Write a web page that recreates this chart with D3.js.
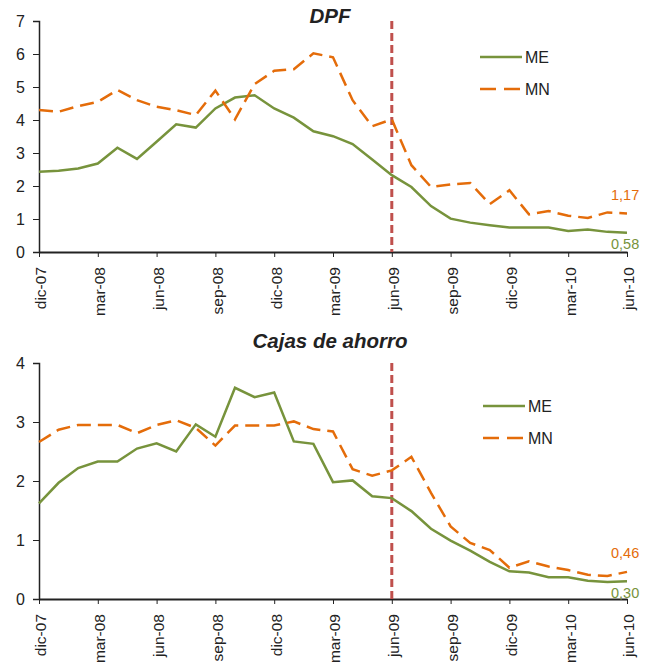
<!DOCTYPE html>
<html>
<head>
<meta charset="utf-8">
<script src="https://cdn.jsdelivr.net/npm/d3@7"></script>
<style>
  body { margin: 0; background: #fff; }
  svg { font-family: "Liberation Sans", Arial, sans-serif; }
</style>
</head>
<body>
<svg id="chart" width="651" height="664"></svg>
<script>
'use strict'

const months = ['dic-07', 'ene-08', 'feb-08', 'mar-08', 'abr-08', 'may-08', 'jun-08', 'jul-08', 'ago-08', 'sep-08', 'oct-08', 'nov-08',
  'dic-08', 'ene-09', 'feb-09', 'mar-09', 'abr-09', 'may-09', 'jun-09', 'jul-09', 'ago-09', 'sep-09', 'oct-09', 'nov-09',
  'dic-09', 'ene-10', 'feb-10', 'mar-10', 'abr-10', 'may-10', 'jun-10']
const tickLabels = ['dic-07', 'mar-08', 'jun-08', 'sep-08', 'dic-08', 'mar-09', 'jun-09', 'sep-09', 'dic-09', 'mar-10', 'jun-10']
const markMonth = 'jun-09'

const dpfME = [2.43, 2.46, 2.53, 2.68, 3.16, 2.82, 3.34, 3.87, 3.77, 4.35, 4.68, 4.75,
  4.35, 4.07, 3.66, 3.51, 3.27, 2.80, 2.33, 1.97, 1.39, 1.01, 0.89, 0.81,
  0.74, 0.74, 0.74, 0.64, 0.68, 0.61, 0.58]
const dpfMN = [4.30, 4.25, 4.42, 4.55, 4.91, 4.60, 4.40, 4.30, 4.15, 4.89, 4.02, 5.09,
  5.49, 5.54, 6.02, 5.90, 4.60, 3.81, 4.02, 2.63, 1.97, 2.05, 2.09, 1.45,
  1.87, 1.14, 1.24, 1.10, 1.03, 1.20, 1.17]

const cajasME = [1.62, 1.97, 2.22, 2.33, 2.33, 2.55, 2.64, 2.50, 2.96, 2.75, 3.58, 3.42,
  3.50, 2.67, 2.63, 1.98, 2.01, 1.74, 1.71, 1.49, 1.19, 0.99, 0.82, 0.63,
  0.47, 0.45, 0.37, 0.37, 0.31, 0.29, 0.30]
const cajasMN = [2.66, 2.87, 2.95, 2.95, 2.95, 2.81, 2.95, 3.03, 2.90, 2.60, 2.94, 2.94,
  2.94, 3.01, 2.88, 2.84, 2.20, 2.09, 2.18, 2.41, 1.80, 1.23, 0.95, 0.83,
  0.53, 0.64, 0.55, 0.49, 0.41, 0.39, 0.46]

const green = '#77933c'
const orange = '#e46c0a'
const red = '#c0504d'

const svg = d3.select('#chart')

const x = d3.scalePoint()
  .domain(months)
  .range([39, 627])

function panel(opts) {
  const y = d3.scaleLinear()
    .domain([0, opts.max])
    .range([opts.bottom, opts.top])

  const g = svg.append('g')

  g.append('text')
    .attr('x', 330)
    .attr('y', opts.titleY)
    .attr('text-anchor', 'middle')
    .style('font-size', '20.5px')
    .style('font-weight', 'bold')
    .style('font-style', 'italic')
    .style('fill', '#222')
    .text(opts.title)

  // y axis
  const gY = g.append('g')
    .attr('transform', `translate(${x.range()[0]},0)`)
    .call(d3.axisLeft(y).ticks(opts.max).tickSize(6).tickPadding(8).tickFormat(d3.format('d')))
  gY.select('.domain').attr('stroke', '#222').attr('stroke-width', 1.5)
  gY.selectAll('.tick line').attr('stroke', '#222')
  gY.selectAll('.tick text').style('font-size', '16px').style('fill', '#222')

  // x axis
  const gX = g.append('g')
    .attr('transform', `translate(0,${opts.bottom})`)
    .call(d3.axisBottom(x).tickValues(tickLabels).tickSize(5).tickSizeOuter(0))
  gX.select('.domain').attr('stroke', '#222').attr('stroke-width', 2)
  gX.selectAll('.tick line').attr('stroke', '#222')
  gX.selectAll('.tick text')
    .style('font-size', '15.5px')
    .style('fill', '#222')
    .attr('text-anchor', 'end')
    .attr('transform', 'rotate(-90)')
    .attr('x', -15)
    .attr('y', 0)
    .attr('dy', '0.45em')

  // vertical marker
  g.append('line')
    .attr('x1', x(markMonth))
    .attr('x2', x(markMonth))
    .attr('y1', opts.top)
    .attr('y2', opts.bottom)
    .attr('stroke', red)
    .attr('stroke-width', 3)
    .attr('stroke-dasharray', '8,4')

  const line = d3.line()
    .x((d, i) => x(months[i]))
    .y(d => y(d))

  g.append('path')
    .datum(opts.me)
    .attr('d', line)
    .attr('fill', 'none')
    .attr('stroke', green)
    .attr('stroke-width', 2.5)

  g.append('path')
    .datum(opts.mn)
    .attr('d', line)
    .attr('fill', 'none')
    .attr('stroke', orange)
    .attr('stroke-width', 2.5)
    .attr('stroke-dasharray', '14,7')

  // legend
  const lg = g.append('g').attr('transform', `translate(${opts.legendX},${opts.legendY})`)
  lg.append('line').attr('x1', 0).attr('x2', 42).attr('y1', 0).attr('y2', 0)
    .attr('stroke', green).attr('stroke-width', 2.5)
  lg.append('text').attr('x', 45).attr('y', 0).attr('dy', '0.35em')
    .style('font-size', '16px').style('fill', '#222').text('ME')
  lg.append('line').attr('x1', 0).attr('x2', 42).attr('y1', 32).attr('y2', 32)
    .attr('stroke', orange).attr('stroke-width', 2.5).attr('stroke-dasharray', '16,8')
  lg.append('text').attr('x', 45).attr('y', 32).attr('dy', '0.35em')
    .style('font-size', '16px').style('fill', '#222').text('MN')

  // end labels
  const fmt = v => d3.format('.2f')(v).replace('.', ',')
  const last = months.length - 1
  g.append('text')
    .attr('x', 611)
    .attr('y', y(opts.mn[last]) - opts.mnOff)
    .style('font-size', '14.5px')
    .style('fill', orange)
    .text(fmt(opts.mn[last]))
  g.append('text')
    .attr('x', 611)
    .attr('y', y(opts.me[last]) + opts.meOff)
    .style('font-size', '14.5px')
    .style('fill', green)
    .text(fmt(opts.me[last]))
}

panel({ title: 'DPF', titleY: 23, max: 7, top: 21, bottom: 252, me: dpfME, mn: dpfMN,
  legendX: 480, legendY: 57, mnOff: 13, meOff: 16 })
panel({ title: 'Cajas de ahorro', titleY: 348, max: 4, top: 363, bottom: 599, me: cajasME, mn: cajasMN,
  legendX: 483, legendY: 406, mnOff: 14, meOff: 17 })
</script>
</body>
</html>
